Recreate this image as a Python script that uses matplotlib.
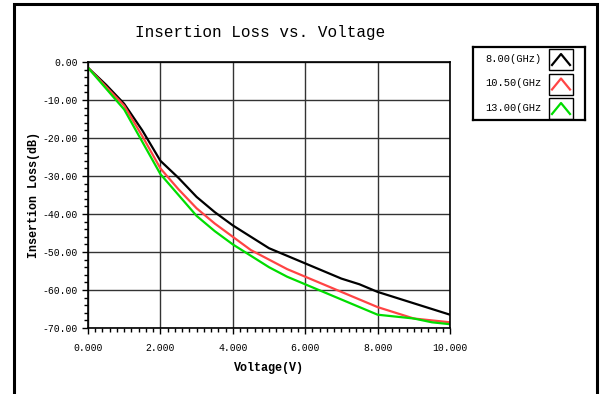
import numpy as np
import matplotlib
matplotlib.use("Agg")
import matplotlib.pyplot as plt
from matplotlib.patches import Rectangle
from matplotlib.ticker import MultipleLocator, FormatStrFormatter

voltage = [0, 0.5, 1, 1.5, 2, 2.5, 3, 3.5, 4, 4.5, 5, 5.5, 6, 6.5, 7, 7.5, 8, 8.5, 9, 9.5, 10]
loss_8 = [-1.5, -6, -11, -18, -26, -30.5, -35.5, -39.5, -43, -46, -49, -51, -53, -55, -57,
          -58.5, -60.5, -62, -63.5, -65, -66.5]
loss_105 = [-1.5, -6.5, -11.5, -19.5, -28, -33.5, -38.5, -42.5, -46, -49.5, -52, -54.5, -56.5,
            -58.5, -60.5, -62.5, -64.5, -66, -67.5, -68, -68.5]
loss_13 = [-1.5, -7, -12.5, -21, -29.5, -35, -40.5, -44.5, -48, -51, -54, -56.5, -58.5,
           -60.5, -62.5, -64.5, -66.5, -67, -67.5, -68.5, -69]
labels = ["8.00(GHz)", "10.50(GHz", "13.00(GHz"]
colors = ["#000000", "#ff4444", "#00dd00"]

mono = "Liberation Mono"

fig = plt.figure(figsize=(6.05, 3.94), dpi=100)
fig.patches.append(Rectangle((14 / 605, -0.01), 583 / 605, 1 - 4 / 394 + 0.01, transform=fig.transFigure,
                             fill=False, edgecolor="black", linewidth=2.2))

ax = fig.add_axes([88 / 605, 1 - 328 / 394, 362 / 605, 266 / 394])
for y, c in zip([loss_8, loss_105, loss_13], colors):
    ax.plot(voltage, y, color=c, linewidth=1.6)

ax.set_xlim(0, 10)
ax.set_ylim(-70, 0)
ax.xaxis.set_major_locator(MultipleLocator(2))
ax.xaxis.set_minor_locator(MultipleLocator(0.2))
ax.yaxis.set_major_locator(MultipleLocator(10))
ax.yaxis.set_minor_locator(MultipleLocator(2))
ax.xaxis.set_major_formatter(FormatStrFormatter("%.3f"))
ax.yaxis.set_major_formatter(FormatStrFormatter("%.2f"))
ax.grid(True, which="major", color="#333333", linewidth=1)
ax.tick_params(which="major", length=4, width=1, labelsize=7)
ax.tick_params(axis="x", which="major", pad=7)
ax.tick_params(which="minor", length=3, width=1)
for lab in ax.get_xticklabels() + ax.get_yticklabels():
    lab.set_family(mono)
for s in ax.spines.values():
    s.set_linewidth(1.2)

ax.set_xlabel("Voltage(V)", family=mono, fontweight="bold", fontsize=8.5, labelpad=6)
ax.set_ylabel("Insertion Loss(dB)", family=mono, fontweight="bold", fontsize=8.5, labelpad=2)
fig.text(260 / 605, 1 - 33 / 394, "Insertion Loss vs. Voltage", family=mono, fontsize=11.5,
         ha="center", va="center")

# legend panel
lg = fig.add_axes([473 / 605, 1 - 120 / 394, 112 / 605, 73 / 394])
lg.set_xlim(0, 112)
lg.set_ylim(73, 0)
lg.set_xticks([])
lg.set_yticks([])
for s in lg.spines.values():
    s.set_linewidth(1.6)
for i, (lab, c) in enumerate(zip(labels, colors)):
    yc = 12 + i * 24.5
    lg.text(12, yc, lab, family=mono, fontsize=7.5, ha="left", va="center")
    lg.add_patch(Rectangle((76, yc - 10), 24, 21, fill=False, edgecolor="black", linewidth=1))
    lg.plot([79, 88, 97], [yc + 6, yc - 5, yc + 6], color=c, linewidth=1.6)

fig.savefig("out.png", dpi=100)
